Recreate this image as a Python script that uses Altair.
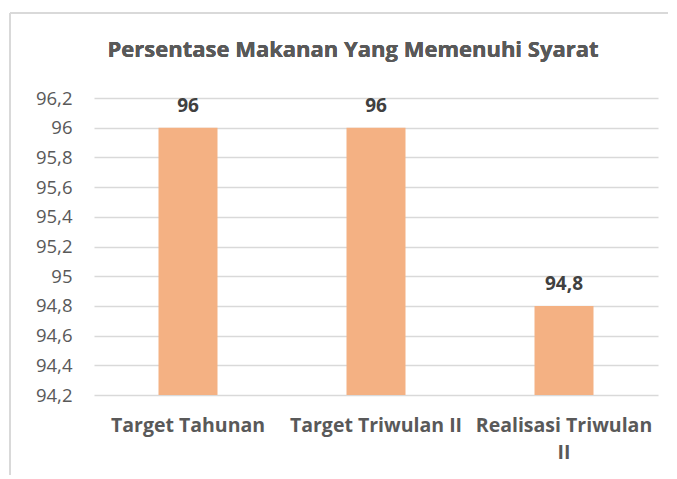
import altair as alt
import pandas as pd

categories = ["Target Tahunan", "Target Triwulan II", "Realisasi Triwulan II"]
values = [96, 96, 94.8]
value_labels = ["96", "96", "94,8"]
y_ticks = [94.2, 94.4, 94.6, 94.8, 95.0, 95.2, 95.4, 95.6, 95.8, 96.0, 96.2]
y_min, y_max = 94.2, 96.2
title_text = "Persentase Makanan Yang Memenuhi Syarat"

df = pd.DataFrame({"cat": categories, "val": values, "lbl": value_labels})

FONT = "Open Sans"
GREY = "#595959"
GRID = "#d9d9d9"

x = alt.X("cat:N", sort=categories, title=None,
          scale=alt.Scale(paddingInner=0, paddingOuter=0),
          axis=alt.Axis(labelAngle=0, labelFont=FONT, labelFontSize=19.5, labelFontWeight="bold",
                        labelColor=GREY, labelPadding=21, labelLineHeight=27, ticks=False,
                        domain=False, grid=False, labelLimit=300,
                        labelExpr="datum.label == 'Realisasi Triwulan II' ? ['Realisasi Triwulan', 'II'] : datum.label"))
y = alt.Y("val:Q", title=None,
          scale=alt.Scale(domain=[y_min, y_max], zero=False, nice=False),
          axis=alt.Axis(values=y_ticks, tickCount=len(y_ticks), labelFont=FONT, labelFontSize=18.5,
                        labelColor=GREY, labelPadding=22, ticks=False, domain=False,
                        gridColor=GRID, gridWidth=1.5, labelOverlap=False,
                        labelExpr="replace(format(datum.value, '.3~r'), '.', ',')"))

bars = alt.Chart(df).mark_bar(color="#f4b183", size=59).encode(
    x=x, y=y, y2=alt.datum(y_min)
)
texts = alt.Chart(df).mark_text(font=FONT, fontSize=19, fontWeight="bold", color="#404040",
                                 baseline="alphabetic", dy=-16).encode(
    x=alt.X("cat:N", sort=categories), y="val:Q", text="lbl:N"
)
title = alt.Chart(df).mark_text(font=FONT, fontSize=22, fontWeight="bold", color=GREY,
                                 baseline="alphabetic", align="center").encode(
    x=alt.value(259), y=alt.value(-41), text=alt.value(title_text)
)
border_top = alt.Chart(df).mark_rule(color=GRID, strokeWidth=1.5).encode(
    x=alt.value(-84), x2=alt.value(700), y=alt.value(-85)
)
border_left = alt.Chart(df).mark_rule(color=GRID, strokeWidth=1.5).encode(
    x=alt.value(-84), y=alt.value(-85), y2=alt.value(400)
)

chart = alt.layer(border_top, border_left, bars, texts, title).properties(
    width=564, height=297,
    autosize=alt.AutoSizeParams(type="none"),
    padding={"left": 86, "top": 90, "right": 10, "bottom": 80},
).configure_view(stroke=None)

chart.save("out.html", embed_options={"renderer": "svg", "actions": False})
